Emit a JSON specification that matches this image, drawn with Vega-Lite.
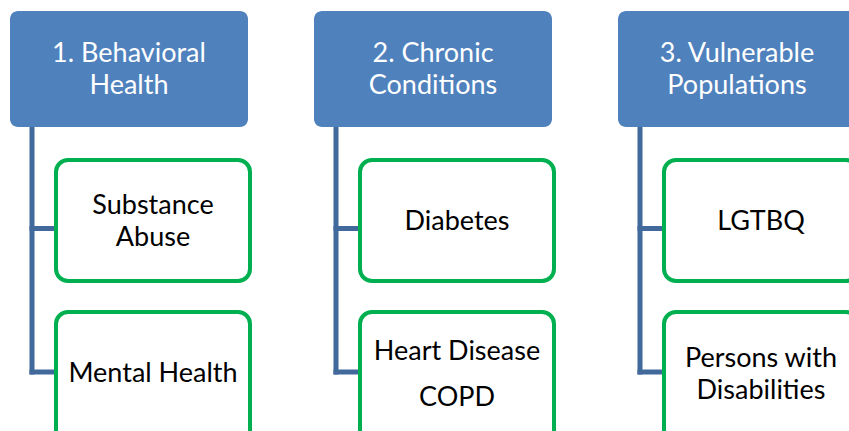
{
  "$schema": "https://vega.github.io/schema/vega-lite/v6.json",
  "width": 849,
  "height": 431,
  "padding": 0,
  "autosize": {"type": "none"},
  "background": "white",
  "config": {"view": {"stroke": null}},
  "datasets": {
    "boxes": [
      {"topic": "Behavioral Health", "role": "topic", "x": 10, "x2": 248, "y": 11, "y2": 127},
      {"topic": "Chronic Conditions", "role": "topic", "x": 314, "x2": 552, "y": 11, "y2": 127},
      {"topic": "Vulnerable Populations", "role": "topic", "x": 618, "x2": 856, "y": 11, "y2": 127},
      {"topic": "Behavioral Health", "role": "item", "x": 56, "x2": 250, "y": 160, "y2": 281},
      {"topic": "Behavioral Health", "role": "item", "x": 56, "x2": 250, "y": 312, "y2": 445},
      {"topic": "Chronic Conditions", "role": "item", "x": 360, "x2": 554, "y": 160, "y2": 281},
      {"topic": "Chronic Conditions", "role": "item", "x": 360, "x2": 554, "y": 312, "y2": 445},
      {"topic": "Vulnerable Populations", "role": "item", "x": 664, "x2": 858, "y": 160, "y2": 281},
      {"topic": "Vulnerable Populations", "role": "item", "x": 664, "x2": 858, "y": 312, "y2": 445}
    ],
    "links": [
      {"x": 32, "x2": 32, "y": 127, "y2": 374.5},
      {"x": 336, "x2": 336, "y": 127, "y2": 374.5},
      {"x": 640, "x2": 640, "y": 127, "y2": 374.5},
      {"x": 29.5, "x2": 56, "y": 228.5, "y2": 228.5},
      {"x": 29.5, "x2": 56, "y": 372, "y2": 372},
      {"x": 333.5, "x2": 360, "y": 228.5, "y2": 228.5},
      {"x": 333.5, "x2": 360, "y": 372, "y2": 372},
      {"x": 637.5, "x2": 664, "y": 228.5, "y2": 228.5},
      {"x": 637.5, "x2": 664, "y": 372, "y2": 372}
    ],
    "labels": [
      {"label": "1. Behavioral\nHealth", "role": "topic", "x": 129, "y": 52},
      {"label": "2. Chronic\nConditions", "role": "topic", "x": 433, "y": 52},
      {"label": "3. Vulnerable\nPopulations", "role": "topic", "x": 737, "y": 52},
      {"label": "Substance\nAbuse", "role": "item", "x": 153, "y": 204},
      {"label": "Mental Health", "role": "item", "x": 153, "y": 372},
      {"label": "Diabetes", "role": "item", "x": 457, "y": 220},
      {"label": "Heart Disease", "role": "item", "x": 457, "y": 350},
      {"label": "COPD", "role": "item", "x": 457, "y": 396},
      {"label": "LGTBQ", "role": "item", "x": 761, "y": 220},
      {"label": "Persons with\nDisabilities", "role": "item", "x": 761, "y": 357}
    ]
  },
  "encoding": {
    "x": {"field": "x", "type": "quantitative", "scale": {"domain": [0, 849], "nice": false, "zero": false}, "axis": null},
    "y": {"field": "y", "type": "quantitative", "scale": {"domain": [0, 431], "nice": false, "zero": false, "reverse": true}, "axis": null}
  },
  "layer": [
    {
      "data": {"name": "links"},
      "mark": {"type": "rule", "color": "#41699B", "strokeWidth": 5, "strokeCap": "butt"},
      "encoding": {"x2": {"field": "x2"}, "y2": {"field": "y2"}}
    },
    {
      "data": {"name": "boxes"},
      "transform": [{"filter": "datum.role === 'topic'"}],
      "mark": {"type": "rect", "fill": "#4F81BD", "cornerRadius": 8},
      "encoding": {"x2": {"field": "x2"}, "y2": {"field": "y2"}}
    },
    {
      "data": {"name": "boxes"},
      "transform": [{"filter": "datum.role === 'item'"}],
      "mark": {"type": "rect", "fill": "white", "stroke": "#00B050", "strokeWidth": 4, "cornerRadius": 12},
      "encoding": {"x2": {"field": "x2"}, "y2": {"field": "y2"}}
    },
    {
      "data": {"name": "labels"},
      "transform": [{"filter": "datum.role === 'topic'"}],
      "mark": {"type": "text", "font": "Lato", "fontSize": 27, "color": "white", "lineBreak": "\n", "lineHeight": 32, "align": "center", "baseline": "middle", "dy": 1.5},
      "encoding": {"text": {"field": "label"}}
    },
    {
      "data": {"name": "labels"},
      "transform": [{"filter": "datum.role === 'item'"}],
      "mark": {"type": "text", "font": "Lato", "fontSize": 27, "color": "black", "lineBreak": "\n", "lineHeight": 32, "align": "center", "baseline": "middle", "dy": 1.5},
      "encoding": {"text": {"field": "label"}}
    }
  ]
}
